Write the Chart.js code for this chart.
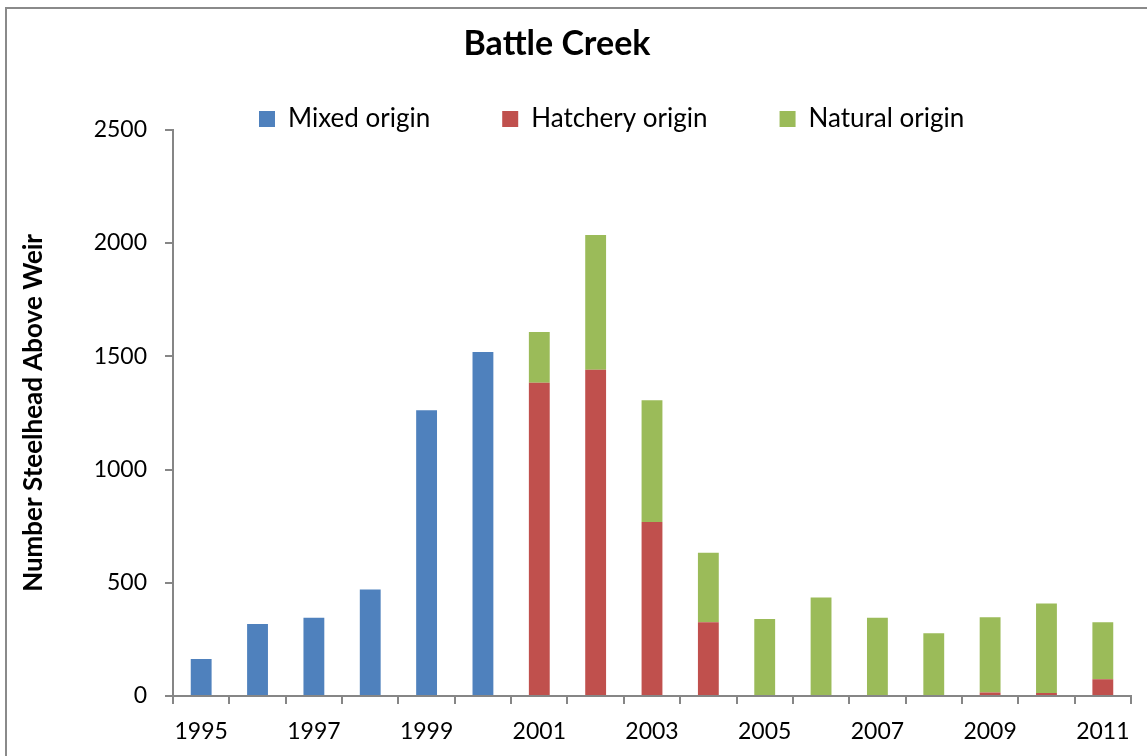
<!DOCTYPE html>
<html>
<head>
<meta charset="utf-8">
<script src="https://cdn.jsdelivr.net/npm/chart.js@4/dist/chart.umd.min.js"></script>
<style>
  html, body { margin: 0; padding: 0; background: #fff; overflow: hidden; }
  #frame { position: absolute; left: 5px; top: 7px; width: 2000px; height: 2000px; border: 2px solid #8a8a8a; }
  #wrap { position: absolute; left: 0; top: 0; width: 1147px; height: 756px; }
</style>
</head>
<body>
<div id="frame"></div>
<div id="wrap"><canvas id="chart" width="1147" height="756"></canvas></div>
<script>
// data
const years = ['1995', '1996', '1997', '1998', '1999', '2000', '2001', '2002', '2003',
  '2004', '2005', '2006', '2007', '2008', '2009', '2010', '2011'];
const mixedOrigin = [163, 318, 345, 470, 1262, 1519, null, null, null, null, null, null, null, null, null, null, null];
const hatcheryOrigin = [null, null, null, null, null, null, 1383, 1440, 768, 326, 0, 0, 0, 0, 15, 13, 74];
const naturalOrigin = [null, null, null, null, null, null, 224, 596, 538, 307, 340, 435, 346, 277, 333, 395, 252];
const yTicks = [0, 500, 1000, 1500, 2000, 2500];

const FONT = 'Lato, "Open Sans", sans-serif';
const AXIS_GRAY = '#868686';
const LEGEND_SIZE = 26;

// move title / legend to where they sit in the picture
const placeHeader = {
  id: 'placeHeader',
  afterLayout(chart) {
    const lg = chart.legend;
    if (lg && lg.lineWidths) {
      const pad = lg.options.labels.padding;
      const x0 = (lg.left + pad + lg.right - lg.lineWidths[0]) / 2;
      const dx = 259 - x0;
      lg.left += dx;
      lg.right += dx;
      lg.top = 119 - pad - LEGEND_SIZE / 2;
      lg.bottom = 119 + LEGEND_SIZE; // keep descenders inside the legend clip
    }
    const tb = chart.titleBlock;
    if (tb) {
      const dx = 557 - (tb.left + tb.right) / 2;
      tb.left += dx;
      tb.right += dx;
    }
  }
};

new Chart(document.getElementById('chart'), {
  type: 'bar',
  data: {
    labels: years,
    datasets: [
      { label: 'Mixed origin', data: mixedOrigin, backgroundColor: '#4F81BD' },
      { label: 'Hatchery origin', data: hatcheryOrigin, backgroundColor: '#C0504D' },
      { label: 'Natural origin', data: naturalOrigin, backgroundColor: '#9BBB59' }
    ]
  },
  options: {
    responsive: false,
    animation: false,
    barPercentage: 0.37,
    categoryPercentage: 1,
    layout: { padding: { top: 0, left: 0, right: 16, bottom: 0 } },
    plugins: {
      title: {
        display: true,
        text: 'Battle Creek',
        color: '#000',
        font: { family: FONT, size: 34, weight: 'bold' },
        padding: { top: 24, bottom: 0 }
      },
      legend: {
        position: 'top',
        maxHeight: 65,
        labels: {
          color: '#000',
          font: { family: FONT, size: LEGEND_SIZE },
          boxWidth: 16,
          boxHeight: 16,
          padding: 72
        }
      },
      tooltip: { enabled: false }
    },
    scales: {
      x: {
        stacked: true,
        afterFit(scale) { scale.height = 60; },
        border: { color: AXIS_GRAY, width: 2 },
        grid: { offset: true, drawOnChartArea: false, drawTicks: true, tickLength: 8, color: AXIS_GRAY, lineWidth: 2 },
        ticks: {
          autoSkip: false,
          maxRotation: 0,
          padding: 14,
          color: '#000',
          font: { family: FONT, size: 23 },
          callback(value, index) { return index % 2 === 0 ? years[index] : ''; }
        }
      },
      y: {
        stacked: true,
        min: 0,
        max: 2500,
        afterFit(scale) { scale.width = 173; },
        afterBuildTicks(scale) { scale.ticks = yTicks.map(v => ({ value: v })); },
        border: { color: AXIS_GRAY, width: 2 },
        grid: { drawOnChartArea: false, drawTicks: true, tickLength: 8, color: AXIS_GRAY, lineWidth: 2 },
        ticks: {
          padding: 18,
          color: '#000',
          font: { family: FONT, size: 23 },
          callback(value) { return String(value); }
        },
        title: {
          display: true,
          text: 'Number Steelhead Above Weir',
          color: '#000',
          font: { family: FONT, size: 26, weight: 'bold' },
          padding: { top: 18, bottom: 0 }
        }
      }
    }
  },
  plugins: [placeHeader]
});
</script>
</body>
</html>
